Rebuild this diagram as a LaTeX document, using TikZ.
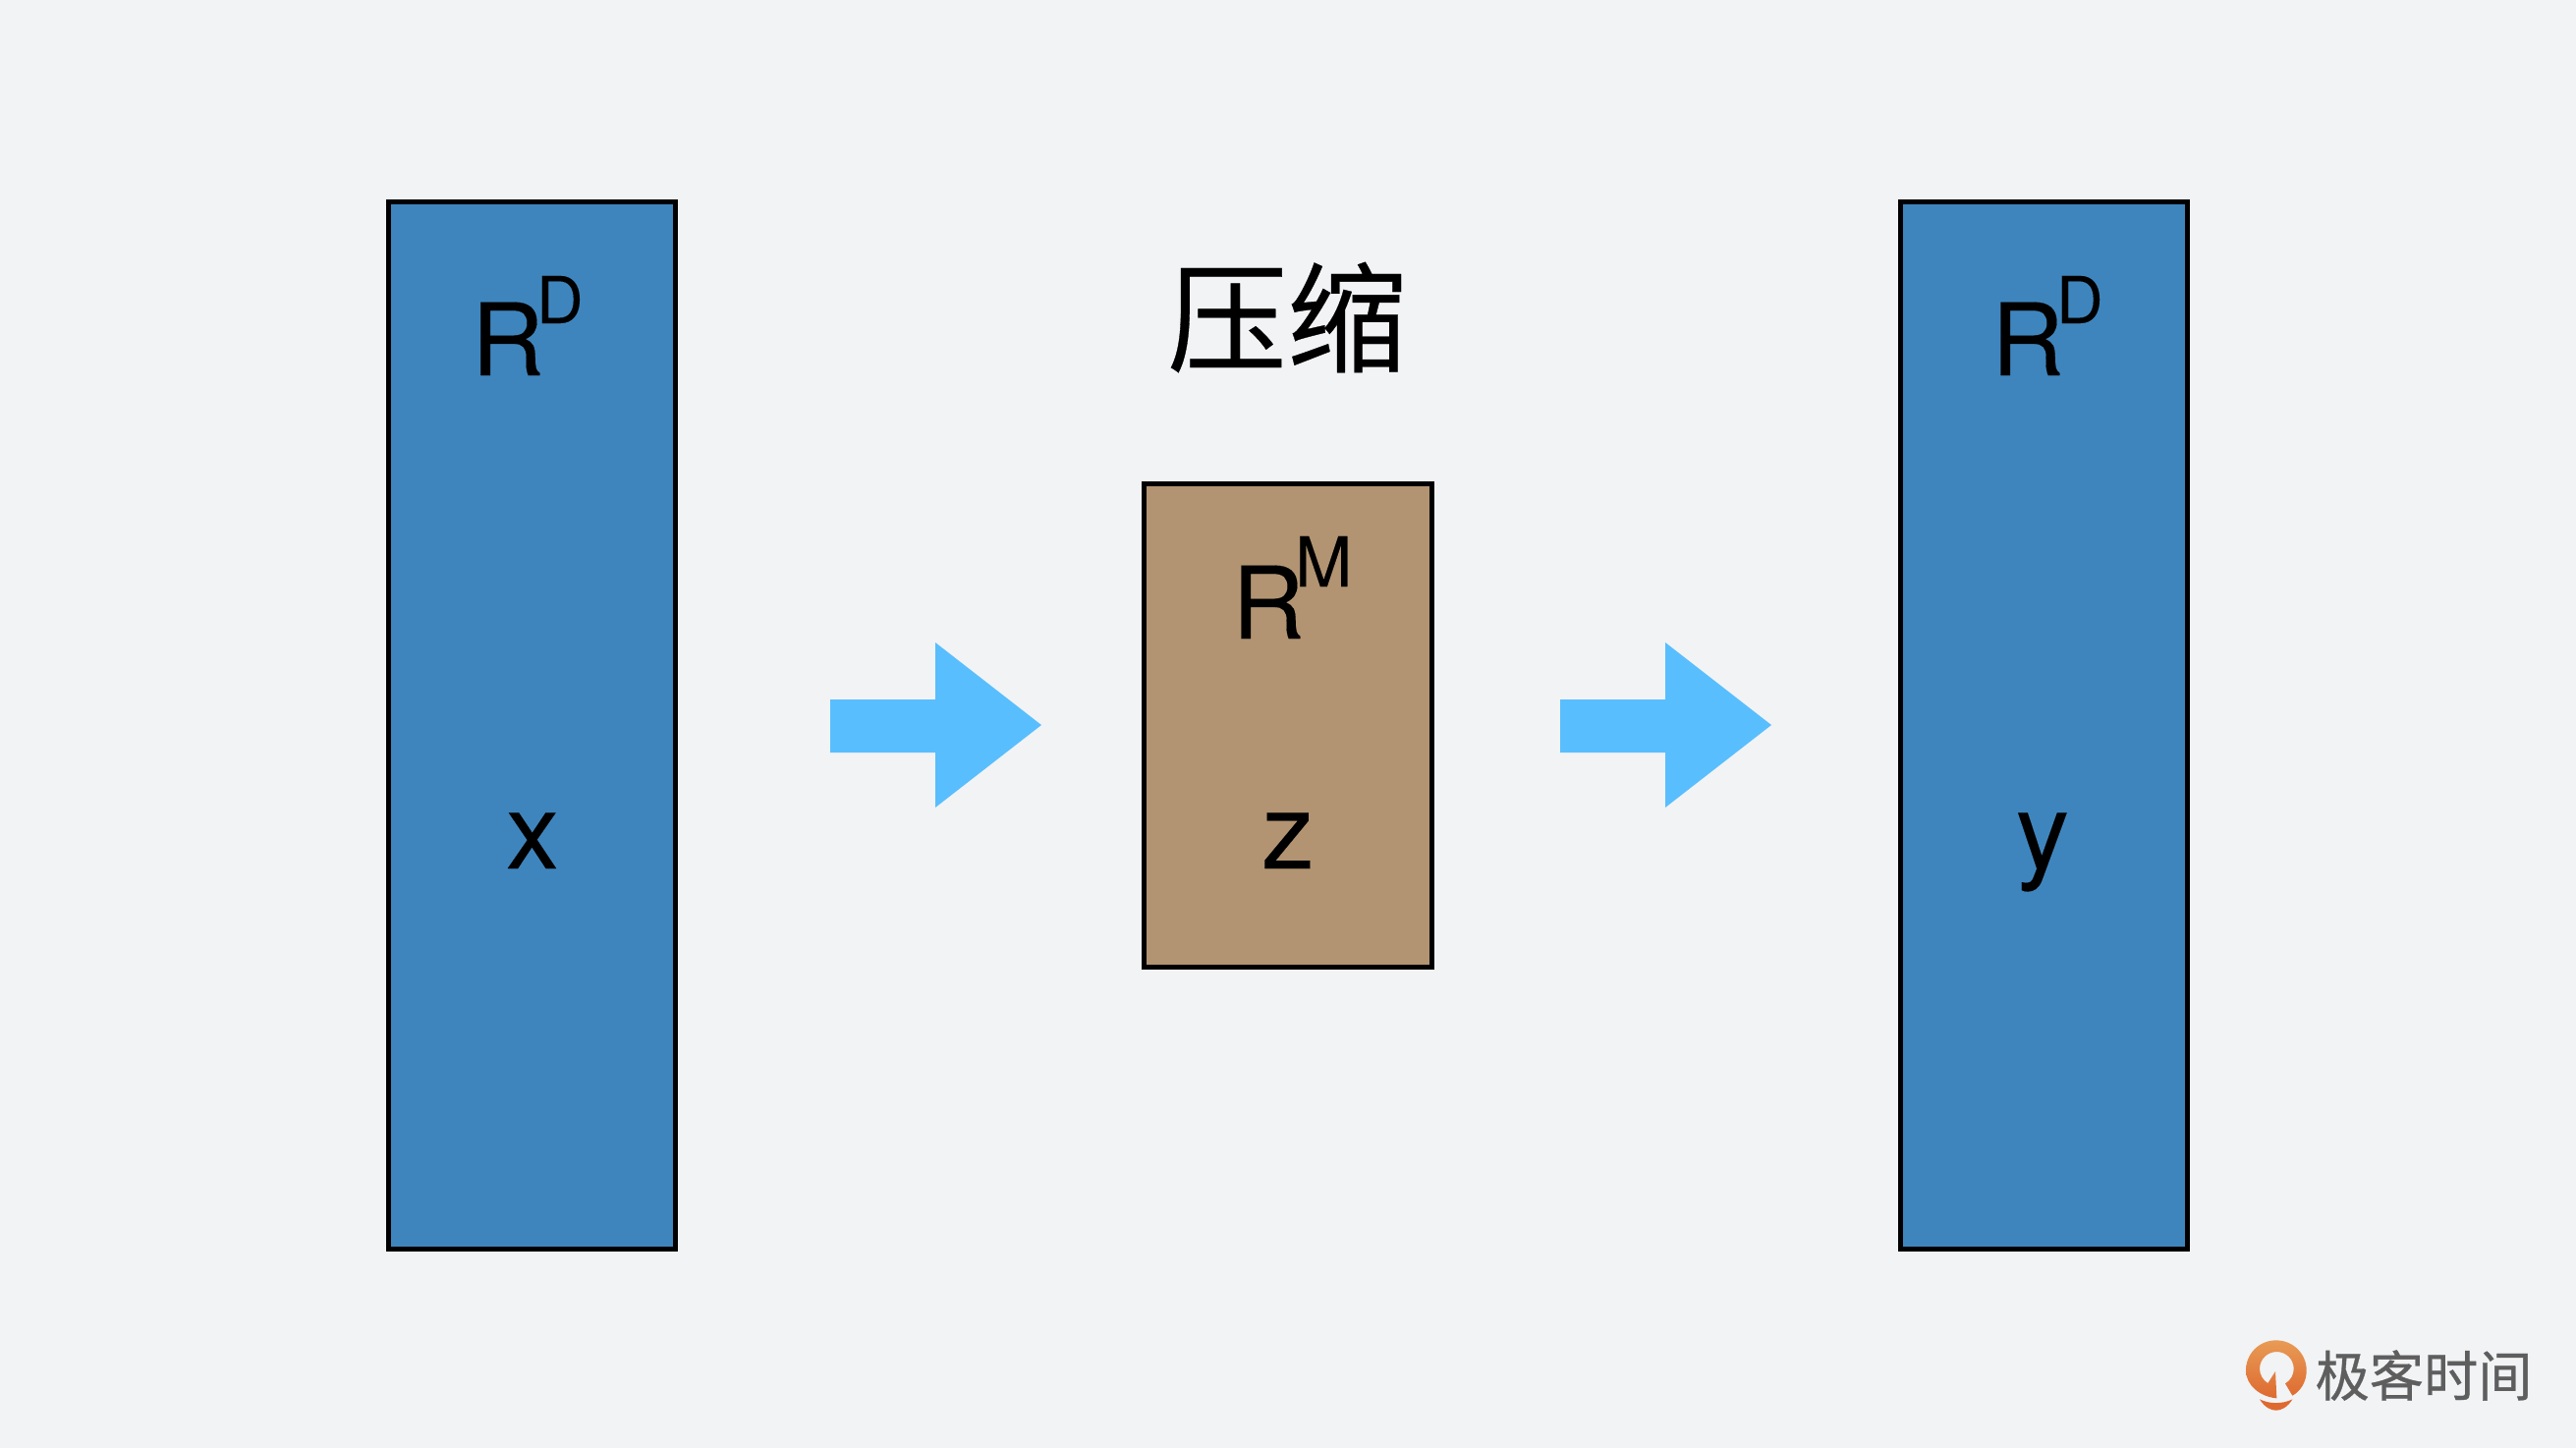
\documentclass[tikz,border=0pt]{standalone}
\usepackage{fontspec}
\setmainfont[FakeBold=0.12]{TeX Gyre Heros}
\newfontfamily\cjk{Noto Sans CJK SC}
\newfontfamily\cjkt[FakeBold=0.25]{Noto Sans CJK SC}
\newfontfamily\cjkl[FakeBold=0.6]{Noto Sans CJK SC}
\usetikzlibrary{shadings}
\definecolor{bgc}{HTML}{F1F3F5}
\definecolor{blueb}{HTML}{3F85BD}
\definecolor{brownb}{HTML}{B29472}
\definecolor{arrowc}{HTML}{59BEFD}
\definecolor{logot}{HTML}{5E5E5E}
\definecolor{logoa}{HTML}{E89B55}
\definecolor{logob}{HTML}{DE6A30}
\tikzset{
  panel/.style={draw=black,line width=2.5pt,line join=miter},
  big/.style={anchor=base west,inner sep=0pt,outer sep=0pt,font=\fontsize{51}{51}\selectfont,text=black},
  small/.style={anchor=base west,inner sep=0pt,outer sep=0pt,font=\fontsize{54}{54}\selectfont,text=black},
  sup/.style={anchor=base west,inner sep=0pt,outer sep=0pt,font=\fontsize{33}{33}\selectfont,text=black},
  supm/.style={anchor=base west,inner sep=0pt,outer sep=0pt,font=\fontsize{35}{35}\selectfont,text=black},
  blockarrow/.style={fill=arrowc,draw=none},
}
\begin{document}
\begin{tikzpicture}[x=0.5pt,y=-0.5pt]
\path[use as bounding box,fill=bgc] (0,0) rectangle (2622,1474);
% panels
\path[panel,fill=blueb] (395,205) rectangle (687,1271);
\path[panel,fill=brownb] (1164,492) rectangle (1457,984);
\path[panel,fill=blueb] (1934,205) rectangle (2226,1271);
% labels
\node[big] (r1) at (480,382) {R};
\node[sup] (d1) at (546,329) {D};
\node[small] (x1) at (515,884) {x};
\node[big] (r2) at (1254,650) {R};
\node[supm] (m2) at (1318,597) {M};
\node[small] (z2) at (1284,884) {z};
\node[big] (r3) at (2027,382) {R};
\node[sup] (d3) at (2093,329) {D};
\node[small] (y3) at (2052,884) {y};
\node[inner sep=0pt,font=\cjkt\fontsize{61}{61}\selectfont,text=black] (title) at (1310,323) {压缩};
% block arrows
\path[blockarrow] (845,712) -- (952,712) -- (952,654) -- (1060,738) -- (952,822) -- (952,766) -- (845,766) -- cycle;
\path[blockarrow] (1588,712) -- (1695,712) -- (1695,654) -- (1803,738) -- (1695,822) -- (1695,766) -- (1588,766) -- cycle;
% logo
\begin{scope}[shift={(2240,1340)},x=0.1667pt,y=-0.1667pt]
\path[top color=logoa,bottom color=logob]
  (230,73) .. controls (282,73) and (323,114) .. (323,165)
  .. controls (323,200) and (305,228) .. (280,242) -- (258,205)
  .. controls (275,195) and (284,178) .. (284,160)
  .. controls (284,130) and (260,108) .. (232,108)
  .. controls (204,108) and (180,130) .. (180,160)
  .. controls (180,178) and (190,195) .. (205,204)
  -- (228,168) -- (232,250)
  .. controls (180,245) and (138,210) .. (138,165)
  .. controls (138,114) and (178,73) .. (230,73) -- cycle;
\path[fill=logob] (180,253) .. controls (210,268) and (250,268) .. (280,253)
  .. controls (265,278) and (245,287) .. (230,287)
  .. controls (215,287) and (195,278) .. (180,253) -- cycle;
\end{scope}
\node[inner sep=0pt,font=\cjkl\fontsize{27.6}{28}\selectfont,text=logot] (brand) at (2467,1400) {极客时间};
\end{tikzpicture}
\end{document}
